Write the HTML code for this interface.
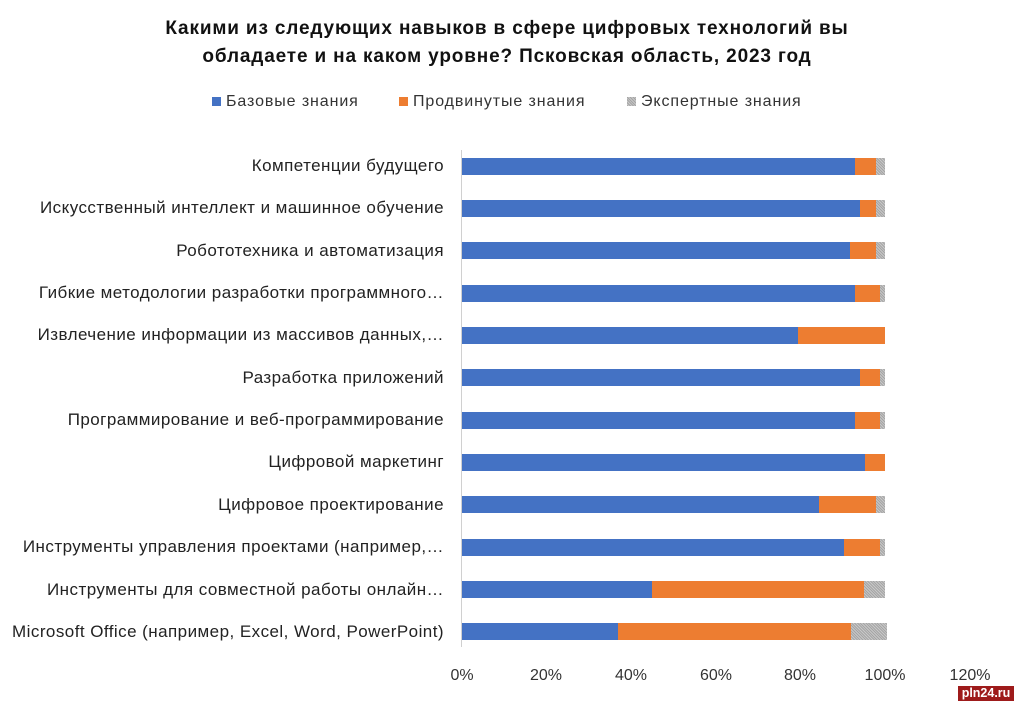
<!DOCTYPE html>
<html><head><meta charset="utf-8"><style>
body{margin:0;width:1014px;height:701px;background:#fff;overflow:hidden;position:relative;font-family:"Liberation Sans",sans-serif;color:#222}
.t{position:absolute;left:0;width:1014px;text-align:center;font-size:19px;font-weight:bold;color:#111;line-height:26px;letter-spacing:0.85px}
.lab{position:absolute;right:570px;font-size:17px;letter-spacing:0.45px;white-space:nowrap;text-align:right;color:#222}
.bar{position:absolute;height:17px}
.b{background:#4472c4}.o{background:#ed7d31}.g{background:repeating-linear-gradient(45deg,#a5a5a5 0 1px,#c8c8c8 1px 2px)}
.tick{position:absolute;top:667px;font-size:16px;transform:translateX(-50%);color:#333}
.lg{position:absolute;top:93px;font-size:16px;letter-spacing:0.9px;color:#333}
.sq{display:inline-block;width:9px;height:9px;margin-right:5px}
</style></head><body>
<div class="t" style="top:16px">Какими из следующих навыков в сфере цифровых технологий вы</div>
<div class="t" style="top:44px">обладаете и на каком уровне? Псковская область, 2023 год</div>
<div class="lg" style="left:212px"><span class="sq b"></span>Базовые знания</div>
<div class="lg" style="left:399px"><span class="sq o"></span>Продвинутые знания</div>
<div class="lg" style="left:627px"><span class="sq g"></span>Экспертные знания</div>
<div style="position:absolute;left:461px;top:150px;width:1px;height:497px;background:#d0d0d0"></div>
<div id="c"></div>
<div class="tick" style="left:462px">0%</div>
<div class="tick" style="left:546px">20%</div>
<div class="tick" style="left:631px">40%</div>
<div class="tick" style="left:716px">60%</div>
<div class="tick" style="left:800px">80%</div>
<div class="tick" style="left:885px">100%</div>
<div class="tick" style="left:970px">120%</div>
<div style="position:absolute;left:958px;top:686px;width:56px;height:15px;background:#9e1b1b;color:#fff;font:bold 12.5px 'Liberation Sans',sans-serif;text-align:center;line-height:15px">pln24.ru</div>
<script>
var d=[["Компетенции будущего",855,876,885],
["Искусственный интеллект и машинное обучение",860,876,885],
["Робототехника и автоматизация",850,876,885],
["Гибкие методологии разработки программного…",855,880,885],
["Извлечение информации из массивов данных,…",798,885,885],
["Разработка приложений",860,880,885],
["Программирование и веб-программирование",855,880,885],
["Цифровой маркетинг",865,885,885],
["Цифровое проектирование",819,876,885],
["Инструменты управления проектами (например,…",844,880,885],
["Инструменты для совместной работы онлайн…",652,864,885],
["Microsoft Office (например, Excel, Word, PowerPoint)",618,851,887]];
var h="";d.forEach(function(r,i){var c=166+i*42.35,t=c-8.5;
h+='<div class="lab" style="top:'+(c-10)+'px">'+r[0]+'</div>';
h+='<div class="bar b" style="left:462px;top:'+t+'px;width:'+(r[1]-462)+'px"></div>';
h+='<div class="bar o" style="left:'+r[1]+'px;top:'+t+'px;width:'+(r[2]-r[1])+'px"></div>';
if(r[3]>r[2])h+='<div class="bar g" style="left:'+r[2]+'px;top:'+t+'px;width:'+(r[3]-r[2])+'px"></div>';});
document.getElementById("c").innerHTML=h;
</script>
</body></html>
